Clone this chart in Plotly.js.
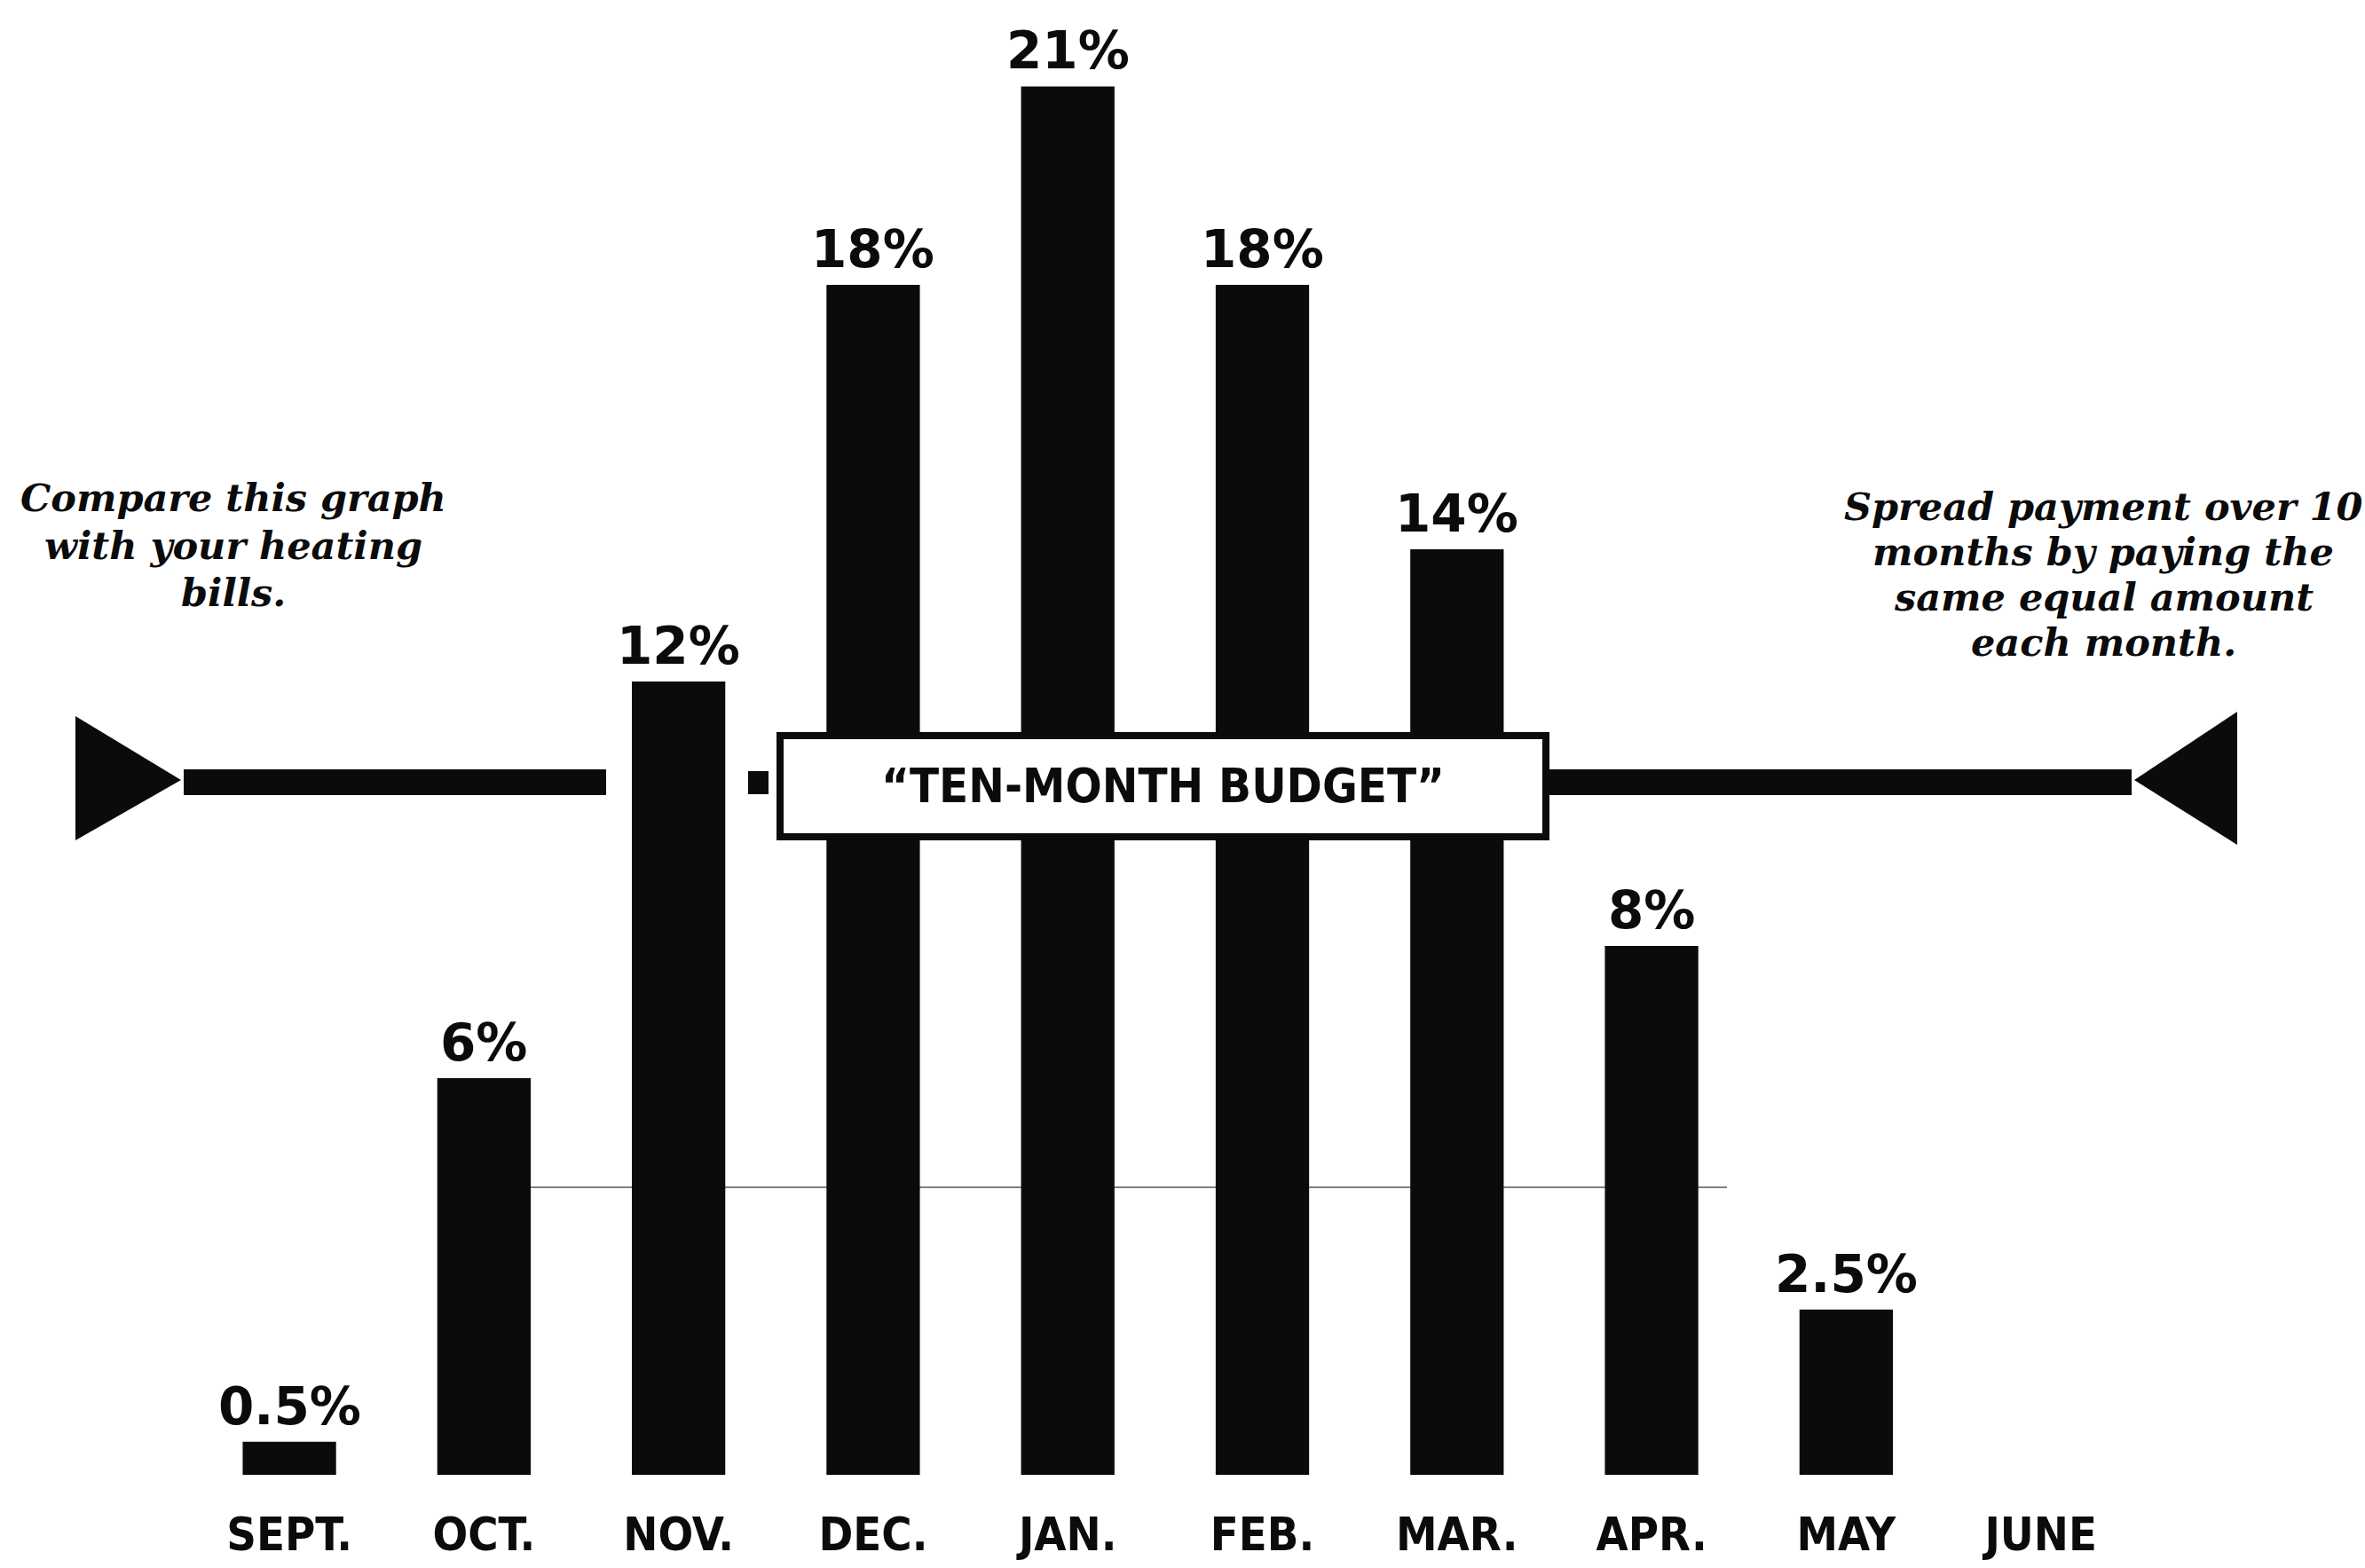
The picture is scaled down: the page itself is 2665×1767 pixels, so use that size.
<!DOCTYPE html>
<html>
<head>
<meta charset="utf-8">
<script src="https://cdn.plot.ly/plotly-3.0.1.min.js"></script>
<style>html,body{margin:0;padding:0;background:#fff;}#chart{width:2665px;height:1767px;}</style>
</head>
<body>
<div id="chart"></div>
<script>
// ---- data ----
const months = ["SEPT.", "OCT.", "NOV.", "DEC.", "JAN.", "FEB.", "MAR.", "APR.", "MAY", "JUNE"];
const shares = [0.5, 6, 12, 18, 21, 18, 14, 8, 2.5, null];
const shareLabels = ["0.5%", "6%", "12%", "18%", "21%", "18%", "14%", "8%", "2.5%", ""];
const budgetLabel = "\u201CTEN-MONTH BUDGET\u201D";
const leftNote = ["Compare this graph", "with your heating", "bills."];
const rightNote = ["Spread payment over 10", "months by paying the", "same equal amount", "each month."];

// ---- geometry helpers (page pixels -> paper) ----
const W = 2665, H = 1767, MB = 105, PH = H - MB;
const px = x => x / W;
const py = y => (PH - y) / PH;

const ink = "#0b0b0b";
const labelFont = {family: "DejaVu Sans, Liberation Sans, sans-serif", size: 58, color: ink, weight: 900};
const monthFont = {family: "DejaVu Sans Condensed, Liberation Sans Narrow, DejaVu Sans, sans-serif", size: 52, color: ink, weight: 900};
const noteFont = {family: "DejaVu Serif, Liberation Serif, serif", size: 43, color: ink, weight: 700, style: "italic"};

const annotations = [];
months.forEach((m, i) => {
  if (shares[i] !== null && shareLabels[i]) {
    annotations.push({x: m, y: shares[i], xref: "x", yref: "y", text: shareLabels[i],
      showarrow: false, yanchor: "bottom", yshift: 4, font: labelFont});
  }
});
const leftY = [561, 615, 668];
leftNote.forEach((t, i) => annotations.push({x: px(263), y: py(leftY[i]), xref: "paper", yref: "paper",
  text: t, showarrow: false, xanchor: "center", yanchor: "middle", font: noteFont}));
const rightY = [571, 622, 673, 724];
rightNote.forEach((t, i) => annotations.push({x: px(2370), y: py(rightY[i]), xref: "paper", yref: "paper",
  text: t, showarrow: false, xanchor: "center", yanchor: "middle", font: noteFont}));
annotations.push({x: px(1310), y: py(886), xref: "paper", yref: "paper", text: budgetLabel,
  showarrow: false, xanchor: "center", yanchor: "middle",
  font: {family: "DejaVu Sans Condensed, DejaVu Sans, sans-serif", size: 54, color: ink, weight: 900}});

const P = (pts) => "M" + pts.map(p => px(p[0]) + "," + py(p[1])).join(" L") + " Z";
const shapes = [
  // faint printed rule
  {type: "line", xref: "paper", yref: "paper", x0: px(505), x1: px(1946), y0: py(1338), y1: py(1338),
   line: {color: "#555", width: 1.5}, layer: "below"},
  // left arrow head and bar
  {type: "path", xref: "paper", yref: "paper", path: P([[85, 807], [85, 947], [204, 879]]),
   fillcolor: ink, line: {width: 0}, layer: "above"},
  {type: "rect", xref: "paper", yref: "paper", x0: px(207), x1: px(683), y0: py(867), y1: py(896),
   fillcolor: ink, line: {width: 0}, layer: "above"},
  {type: "rect", xref: "paper", yref: "paper", x0: px(843), x1: px(866), y0: py(869), y1: py(895),
   fillcolor: ink, line: {width: 0}, layer: "above"},
  // box
  {type: "rect", xref: "paper", yref: "paper", x0: px(879), x1: px(1742), y0: py(829), y1: py(943),
   fillcolor: "#ffffff", line: {color: ink, width: 8}, layer: "above"},
  // right bar and arrow head
  {type: "rect", xref: "paper", yref: "paper", x0: px(1746), x1: px(2402), y0: py(867), y1: py(896),
   fillcolor: ink, line: {width: 0}, layer: "above"},
  {type: "path", xref: "paper", yref: "paper", path: P([[2521, 802], [2521, 952], [2405, 879]]),
   fillcolor: ink, line: {width: 0}, layer: "above"}
];

const trace = {
  type: "bar", x: months, y: shares, width: 0.48,
  marker: {color: ink, line: {width: 0}},
  hoverinfo: "x+y"
};

const layout = {
  width: W, height: H,
  margin: {l: 0, r: 0, t: 0, b: MB, pad: 0},
  paper_bgcolor: "#ffffff", plot_bgcolor: "#ffffff",
  showlegend: false,
  xaxis: {type: "category", categoryorder: "array", categoryarray: months,
    range: [-1.487, 10.666], showgrid: false, zeroline: false, showline: false,
    ticks: "", ticklabelstandoff: 32, tickfont: monthFont, fixedrange: true},
  yaxis: {range: [0, PH / 74.5], showgrid: false, zeroline: false, showline: false,
    showticklabels: false, ticks: "", fixedrange: true},
  annotations: annotations,
  shapes: shapes
};

Plotly.newPlot("chart", [trace], layout, {displayModeBar: false, staticPlot: true});
</script>
</body>
</html>
